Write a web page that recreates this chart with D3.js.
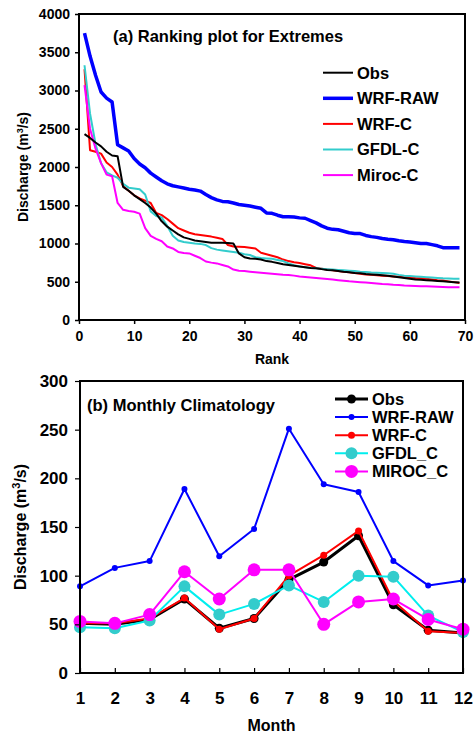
<!DOCTYPE html>
<html><head><meta charset="utf-8">
<script src="https://cdn.jsdelivr.net/npm/d3@7"></script>
<style>
body{margin:0;background:#fff}
text{font-family:"Liberation Sans",Arial,Helvetica,sans-serif;font-weight:bold;fill:#000}
</style></head><body>
<svg id="c" width="474" height="735"></svg>
<script>
// ---------- Panel (a) data: ranking plot ----------
const ranks = d3.range(1, 70);
const obsRank = [2430,2380,2320,2270,2200,2150,2140,1740,1690,1630,
1580,1530,1470,1390,1290,1220,1170,1120,1080,1060,
1040,1030,1020,1010,1010,1010,1005,1000,870,820,
805,800,790,770,760,745,730,720,710,700,
690,680,675,665,655,650,640,630,625,615,
610,600,595,590,585,578,570,560,550,540,
530,525,520,515,510,505,500,495,490];
const wrfRawRank = [3750,3450,3200,2980,2900,2850,2290,2250,2210,2110,
2040,1990,1920,1870,1820,1780,1755,1740,1725,1710,
1700,1685,1640,1600,1570,1550,1545,1530,1510,1500,
1490,1475,1460,1400,1395,1370,1350,1350,1345,1335,
1330,1300,1270,1230,1200,1185,1180,1160,1140,1130,
1130,1105,1090,1080,1065,1055,1050,1035,1025,1020,
1010,1000,1000,985,970,945,945,945,945];
const wrfCRank = [3280,2220,2200,2175,2060,2000,1900,1750,1690,1630,
1590,1560,1530,1400,1370,1320,1260,1200,1170,1140,
1120,1110,1100,1090,1075,1060,980,960,958,955,
945,935,880,860,840,820,790,770,755,745,
730,715,680,670,660,650,640,632,625,615,
605,595,590,585,580,575,570,565,560,555,
548,545,540,530,520,515,505,495,485];
const gfdlRank = [3330,2700,2300,2050,1930,1890,1860,1780,1730,1720,
1710,1640,1420,1360,1340,1230,1100,1040,1020,1010,
1000,995,980,940,920,910,900,890,880,860,
850,820,810,805,800,785,770,740,715,700,
690,680,675,670,665,660,655,650,645,640,
632,628,622,618,614,610,605,590,578,575,
570,565,560,555,550,545,542,540,540];
const mirocRank = [3070,2500,2240,2050,1900,1880,1530,1440,1425,1415,
1390,1200,1100,1060,1030,960,935,890,875,870,
840,810,765,750,740,720,700,660,645,640,
632,625,618,612,605,598,592,588,580,570,
562,555,548,542,535,528,520,512,505,500,
495,490,485,478,472,468,462,458,452,448,
445,442,440,438,435,432,428,427,427];
const rankTicksX = [0,10,20,30,40,50,60,70];
const rankTicksY = [0,500,1000,1500,2000,2500,3000,3500,4000];

// ---------- Panel (b) data: monthly climatology ----------
const months = [1,2,3,4,5,6,7,8,9,10,11,12];
const obsMon    = [51,50,55,76,46,56,96,114,141,70,44,41];
const wrfRawMon = [89,108,115,189,120,148,251,194,186,115,90,95];
const wrfCMon   = [51,51,56,77,45,56,100,121,146,74,43,41];
const gfdlMon   = [47,46,54,89,60,71,90,73,100,99,59,42];
const mirocMon  = [53,51,60,104,76,106,106,50,73,76,55,45];
const monTicksY = [0,50,100,150,200,250,300];

const svg = d3.select("#c");

// ================= Panel (a) =================
{
  const L=79, R=465, T=14, B=320;
  const x = d3.scaleLinear().domain([0,70]).range([L,R]);
  const y = d3.scaleLinear().domain([0,4000]).range([B,T]);
  const g = svg.append("g");

  const series = [
    {name:"Obs", vals:obsRank, color:"#000000", w:2},
    {name:"WRF-RAW", vals:wrfRawRank, color:"#0000FF", w:3.5},
    {name:"WRF-C", vals:wrfCRank, color:"#FF0000", w:2},
    {name:"GFDL-C", vals:gfdlRank, color:"#33CCCC", w:2},
    {name:"Miroc-C", vals:mirocRank, color:"#FF00FF", w:2}
  ];
  const line = d3.line().x((d,i)=>x(ranks[i])).y(d=>y(d));
  const drawOrder = [1,2,3,4,0];
  drawOrder.forEach(k=>{
    const s = series[k];
    g.append("path").attr("d", line(s.vals)).attr("fill","none")
      .attr("stroke", s.color).attr("stroke-width", s.w).attr("stroke-linejoin","round");
  });

  const ax = g.append("g").attr("transform",`translate(0,${B})`)
    .call(d3.axisBottom(x).tickValues(rankTicksX).tickSize(4).tickPadding(7).tickFormat(d3.format("d")));
  ax.select(".domain").remove();
  ax.selectAll("line").attr("stroke","#000").attr("stroke-width",1.5);
  ax.selectAll("text").style("font-size","14px").attr("fill","#000");

  const ay = g.append("g").attr("transform",`translate(${L},0)`)
    .call(d3.axisLeft(y).tickValues(rankTicksY).tickSize(4).tickPadding(5).tickFormat(d3.format("d")));
  ay.select(".domain").remove();
  ay.selectAll("line").attr("stroke","#000").attr("stroke-width",1.5);
  ay.selectAll("text").style("font-size","14px").attr("fill","#000");

  g.append("rect").attr("x",L).attr("y",T).attr("width",R-L).attr("height",B-T)
    .attr("fill","none").attr("stroke","#000").attr("stroke-width",2);

  g.append("text").attr("x",113).attr("y",42).style("font-size","16.5px")
    .text("(a) Ranking plot for Extremes");
  g.append("text").attr("x",(L+R)/2).attr("y",364).attr("text-anchor","middle")
    .style("font-size","14px").text("Rank");
  const yl = g.append("text").attr("transform",`translate(28,${(T+B)/2}) rotate(-90)`)
    .attr("text-anchor","middle").style("font-size","14px");
  yl.append("tspan").text("Discharge (m");
  yl.append("tspan").attr("baseline-shift","super").style("font-size","9px").text("3");
  yl.append("tspan").text("/s)");

  series.forEach((s,i)=>{
    const yy = 72.7 + i*25.6;
    g.append("line").attr("x1",323).attr("x2",353).attr("y1",yy).attr("y2",yy)
      .attr("stroke",s.color).attr("stroke-width",s.w);
    g.append("text").attr("x",357).attr("y",yy).attr("dy","0.36em")
      .style("font-size","16.5px").text(s.name);
  });
}

// ================= Panel (b) =================
{
  const L=80, R=463, T=381, B=673;
  const x = d3.scaleLinear().domain([1,12]).range([L,R]);
  const y = d3.scaleLinear().domain([0,300]).range([B,T]);
  const g = svg.append("g");

  const series = [
    {name:"Obs", vals:obsMon, color:"#000000", mfill:"#000000", w:3, r:4.5},
    {name:"WRF-RAW", vals:wrfRawMon, color:"#0000FF", mfill:"#0000FF", w:2, r:3},
    {name:"WRF-C", vals:wrfCMon, color:"#FF0000", mfill:"#FF0000", w:2, r:3.5},
    {name:"GFDL_C", vals:gfdlMon, color:"#00EEEE", mfill:"#33CCCC", w:2, r:6},
    {name:"MIROC_C", vals:mirocMon, color:"#FF00FF", mfill:"#FF00FF", w:2, r:6.5}
  ];
  const line = d3.line().x((d,i)=>x(months[i])).y(d=>y(d));
  series.forEach(s=>{
    g.append("path").attr("d", line(s.vals)).attr("fill","none")
      .attr("stroke", s.color).attr("stroke-width", s.w).attr("stroke-linejoin","round");
    g.selectAll(null).data(s.vals).enter().append("circle")
      .attr("cx",(d,i)=>x(months[i])).attr("cy",d=>y(d)).attr("r",s.r)
      .attr("fill",s.mfill);
  });

  const ax = g.append("g").attr("transform",`translate(0,${B})`)
    .call(d3.axisBottom(x).tickValues(months).tickSize(-5).tickPadding(19).tickFormat(d3.format("d")));
  ax.select(".domain").remove();
  ax.selectAll("line").attr("stroke","#000").attr("stroke-width",1.2);
  ax.selectAll("text").style("font-size","17px").attr("fill","#000");

  const ay = g.append("g").attr("transform",`translate(${L},0)`)
    .call(d3.axisLeft(y).tickValues(monTicksY).tickSize(5).tickPadding(7).tickFormat(d3.format("d")));
  ay.select(".domain").remove();
  ay.selectAll("line").attr("stroke","#000").attr("stroke-width",1.2);
  ay.selectAll("text").style("font-size","17px").attr("fill","#000");

  g.append("rect").attr("x",L).attr("y",T).attr("width",R-L).attr("height",B-T)
    .attr("fill","none").attr("stroke","#000").attr("stroke-width",2);

  g.append("text").attr("x",87).attr("y",411).style("font-size","16.5px")
    .text("(b) Monthly Climatology");
  g.append("text").attr("x",(L+R)/2).attr("y",731).attr("text-anchor","middle")
    .style("font-size","16px").text("Month");
  const yl = g.append("text").attr("transform",`translate(26,${(T+B)/2}) rotate(-90)`)
    .attr("text-anchor","middle").style("font-size","16px");
  yl.append("tspan").text("Discharge (m");
  yl.append("tspan").attr("baseline-shift","super").style("font-size","11px").text("3");
  yl.append("tspan").text("/s)");

  series.forEach((s,i)=>{
    const yy = 399 + i*18.1;
    g.append("line").attr("x1",335).attr("x2",368).attr("y1",yy).attr("y2",yy)
      .attr("stroke",s.color).attr("stroke-width",s.w);
    g.append("circle").attr("cx",351.5).attr("cy",yy).attr("r",s.r).attr("fill",s.mfill);
    g.append("text").attr("x",372).attr("y",yy).attr("dy","0.36em")
      .style("font-size","16.5px").text(s.name);
  });
}
</script>
</body></html>
